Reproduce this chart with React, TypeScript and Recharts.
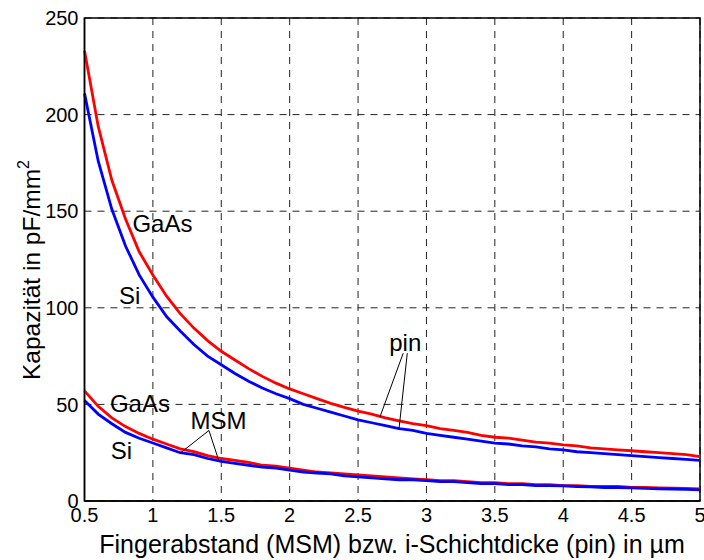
import {
  CartesianGrid,
  Label,
  Line,
  LineChart,
  ReferenceArea,
  ReferenceDot,
  ReferenceLine,
  XAxis,
  YAxis,
} from 'recharts'

// Fingerabstand / i-Schichtdicke in µm
const thickness = [
  0.5, 0.6, 0.7, 0.8, 0.9, 1.0, 1.1, 1.2, 1.3, 1.4, 1.5, 1.6, 1.7, 1.8, 1.9,
  2.0, 2.1, 2.2, 2.3, 2.4, 2.5, 2.6, 2.7, 2.8, 2.9, 3.0, 3.1, 3.2, 3.3, 3.4,
  3.5, 3.6, 3.7, 3.8, 3.9, 4.0, 4.1, 4.2, 4.3, 4.4, 4.5, 4.6, 4.7, 4.8, 4.9,
  5.0,
]

// Kapazität in pF/mm²
const pinGaAs = [
  233, 194, 166, 146, 129, 117, 106, 97, 89.5, 83, 77.5, 73, 68.5, 64.5, 61,
  58, 55.5, 53, 50.5, 48.5, 46.5, 45, 43, 41.5, 40, 39, 37.5, 36.5, 35.5, 34,
  33, 32.5, 31.5, 30.5, 30, 29, 28.5, 27.5, 27, 26.5, 26, 25.5, 25, 24.5, 24,
  23,
]
const pinSi = [
  211, 176, 151, 132, 117, 105.5, 95.5, 88, 81, 75, 70.5, 66, 62, 58.5, 55.5,
  53, 50, 48, 46, 44, 42, 40.5, 39, 37.5, 36.5, 35, 34, 33, 32, 31, 30, 29.5,
  28.5, 28, 27, 26.5, 25.5, 25, 24.5, 24, 23.5, 23, 22.5, 22, 21.5, 21,
]
const msmGaAs = [
  57, 49, 43, 38.5, 35, 32, 29.5, 27, 25.5, 23.5, 22, 21, 20, 18.5, 18, 17, 16,
  15, 14.5, 14, 13.5, 13, 12.5, 12, 11.5, 11, 10.5, 10.5, 10, 9.5, 9.5, 9, 9,
  8.5, 8.5, 8, 8, 7.5, 7.5, 7.5, 7, 7, 6.8, 6.7, 6.5, 6.3,
]
const msmSi = [
  52, 45, 40, 35.5, 32.5, 30, 27.5, 25, 24, 22, 20.5, 19.5, 18.5, 17.5, 17, 16,
  15, 14.5, 14, 13, 12.5, 12, 11.5, 11, 11, 10.5, 10, 10, 9.5, 9, 9, 8.5, 8.5,
  8, 8, 7.8, 7.5, 7.3, 7, 7, 6.8, 6.5, 6.3, 6.2, 6, 5.8,
]

const xTicks = [0.5, 1, 1.5, 2, 2.5, 3, 3.5, 4, 4.5, 5]
const yTicks = [0, 50, 100, 150, 200, 250]

const data = thickness.map((x, i) => ({
  x,
  pinGaAs: pinGaAs[i],
  pinSi: pinSi[i],
  msmGaAs: msmGaAs[i],
  msmSi: msmSi[i],
}))

// curve labels and leader lines, in data coordinates
const textLabels = [
  { text: 'GaAs', x: 1.07, y: 143.5 },
  { text: 'Si', x: 0.83, y: 106.5 },
  { text: 'GaAs', x: 0.905, y: 50.5 },
  { text: 'Si', x: 0.77, y: 26 },
  { text: 'MSM', x: 1.48, y: 41.5 },
  { text: 'pin', x: 2.845, y: 82 },
]
const leaders = [
  { x1: 1.41, y1: 36.5, x2: 1.2, y2: 24.8 },
  { x1: 1.41, y1: 36.5, x2: 1.48, y2: 21.3 },
  { x1: 2.83, y1: 76.5, x2: 2.66, y2: 43.5 },
  { x1: 2.86, y1: 76.5, x2: 2.8, y2: 37.8 },
]

const font = '"Liberation Sans", Arial, sans-serif'
const RED = '#ff0000'
const BLUE = '#0000ff'

export default function App() {
  return (
    <div
      style={{
        position: 'absolute',
        left: 0,
        top: 0,
        width: 704,
        height: 560,
        background: '#fff',
        fontFamily: font,
      }}
    >
      <LineChart
        width={704}
        height={560}
        data={data}
        margin={{ top: 18, right: 4, bottom: 0, left: 0 }}
      >
        <CartesianGrid stroke="#222" strokeDasharray="7 6" />
        <XAxis
          dataKey="x"
          type="number"
          domain={[0.5, 5]}
          ticks={xTicks}
          interval={0}
          height={59}
          tickLine={false}
          tickMargin={1}
          axisLine={{ stroke: '#000', strokeWidth: 1.5 }}
          tick={{ fill: '#000', fontSize: 20, fontFamily: font }}
          tickFormatter={(v: number) => String(v)}
        >
          <Label
            content={() => (
              <text
                x={392}
                y={553}
                textAnchor="middle"
                fontSize={25}
                fontFamily={font}
                fill="#000"
              >
                Fingerabstand (MSM) bzw. i-Schichtdicke (pin) in µm
              </text>
            )}
          />
        </XAxis>
        <YAxis
          type="number"
          domain={[0, 250]}
          ticks={yTicks}
          interval={0}
          width={84.5}
          tickLine={false}
          tickMargin={0}
          axisLine={{ stroke: '#000', strokeWidth: 1.5 }}
          tick={{ fill: '#000', fontSize: 20, fontFamily: font }}
        >
          <Label
            content={() => (
              <text
                x={40}
                y={270}
                textAnchor="middle"
                fontSize={24.5}
                fontFamily={font}
                fill="#000"
                transform="rotate(-90 40 270)"
              >
                Kapazität in pF/mm
                <tspan fontSize={16} dy={-11}>
                  2
                </tspan>
              </text>
            )}
          />
        </YAxis>
        <ReferenceArea
          x1={0.5}
          x2={5}
          y1={0}
          y2={250}
          fill="none"
          stroke="#000"
          strokeWidth={1.5}
        />
        <Line
          dataKey="pinGaAs"
          stroke={RED}
          strokeWidth={2.8}
          dot={false}
          type="linear"
          isAnimationActive={false}
        />
        <Line
          dataKey="pinSi"
          stroke={BLUE}
          strokeWidth={2.8}
          dot={false}
          type="linear"
          isAnimationActive={false}
        />
        <Line
          dataKey="msmGaAs"
          stroke={RED}
          strokeWidth={2.8}
          dot={false}
          type="linear"
          isAnimationActive={false}
        />
        <Line
          dataKey="msmSi"
          stroke={BLUE}
          strokeWidth={2.8}
          dot={false}
          type="linear"
          isAnimationActive={false}
        />
        {leaders.map((l, i) => (
          <ReferenceLine
            key={'l' + i}
            segment={[
              { x: l.x1, y: l.y1 },
              { x: l.x2, y: l.y2 },
            ]}
            stroke="#000"
            strokeWidth={1}
          />
        ))}
        {textLabels.map((t, i) => (
          <ReferenceDot
            key={'t' + i}
            x={t.x}
            y={t.y}
            r={0}
            stroke="none"
            label={{
              value: t.text,
              position: 'center',
              fill: '#000',
              fontSize: 24,
              fontFamily: font,
            }}
          />
        ))}
      </LineChart>
    </div>
  )
}
